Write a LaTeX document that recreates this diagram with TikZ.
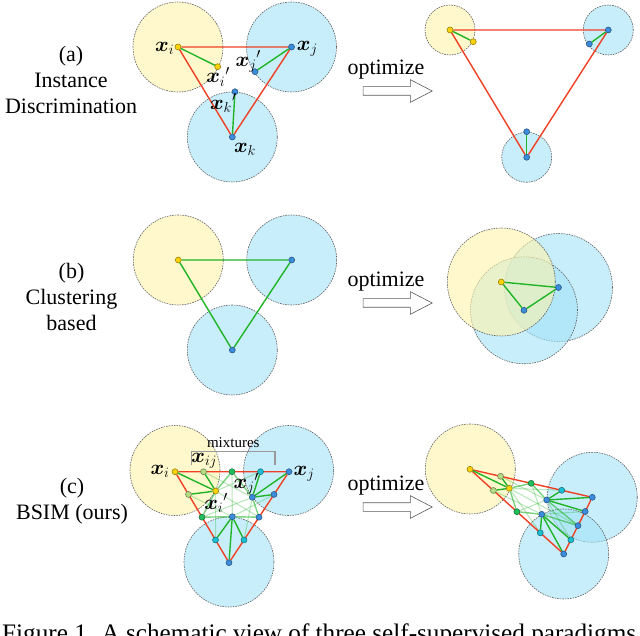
\documentclass[tikz,border=0pt]{standalone}
\usepackage{amsmath}
\usepackage{fontspec}
\setmainfont{Liberation Serif}
\usetikzlibrary{shapes.arrows, positioning, calc}

\definecolor{redline}{RGB}{240,64,36}
\definecolor{greenline}{RGB}{34,180,40}
\definecolor{ptyellow}{RGB}{250,210,10}
\definecolor{ptblue}{RGB}{60,140,220}
\definecolor{ptlgreen}{RGB}{180,220,130}
\definecolor{ptgreen}{RGB}{30,190,90}
\definecolor{ptcyan}{RGB}{30,190,210}
\definecolor{fillyellow}{RGB}{255,243,170}
\definecolor{fillblue}{RGB}{163,227,248}

\pgfdeclarelayer{back}
\pgfdeclarelayer{mid}
\pgfsetlayers{back,mid,main}

\tikzset{
  region/.style={circle, draw=gray!75!black, line width=0.6pt, dash pattern=on 1.6pt off 1pt,
                 fill opacity=0.6, inner sep=0pt, minimum size=#1},
  yregion/.style={region=#1, fill=fillyellow},
  bregion/.style={region=#1, fill=fillblue},
  pt/.style={circle, draw=#1!55!black, line width=0.5pt, inner sep=0pt, minimum size=6pt, fill=#1},
  redl/.style={draw=redline, line width=1.4pt},
  greenl/.style={draw=greenline, line width=1.4pt},
  greenmid/.style={greenl, draw opacity=0.6},
  greenfaint/.style={greenl, line width=1.1pt, draw opacity=0.3},
  lbl/.style={font=\fontsize{21}{25}\selectfont, inner sep=0pt},
  sectlbl/.style={font=\fontsize{22}{26}\selectfont, align=center, inner sep=0pt},
  opttext/.style={font=\fontsize{22}{26}\selectfont, inner sep=0pt},
  optarrow/.style={single arrow, draw=gray!70!black, fill=white, line width=0.6pt, minimum height=69pt,
                   inner sep=4pt, single arrow head extend=7pt, single arrow tip angle=55},
  bracket/.style={draw=gray!80, line width=1.5pt}
}

\newcommand{\xv}[1]{$\boldsymbol{x}_{#1}$}
\newcommand{\xp}[1]{${\boldsymbol{x}_{#1}}'$}

\begin{document}
\begin{tikzpicture}[x=1pt, y=-1pt]
\path[use as bounding box, clip] (0,0) rectangle (640,636);

% ---------- (a) instance discrimination
\node[sectlbl] (laba) at (71,80) {(a)\\Instance\\Discrimination};
\begin{pgfonlayer}{back}
  \node[yregion=90pt] (ral-i) at (178,47) {};
  \node[bregion=90pt] (ral-j) at (291.5,47) {};
  \node[bregion=90pt] (ral-k) at (232.3,137) {};
  \node[yregion=50pt] (rar-i) at (450,30) {};
  \node[bregion=50pt] (rar-j) at (608.3,30) {};
  \node[bregion=50pt] (rar-k) at (526.7,157.3) {};
\end{pgfonlayer}
\node[pt=ptyellow] (al-i) at (178,47) {};
\node[pt=ptblue] (al-j) at (291.5,47) {};
\node[pt=ptblue] (al-k) at (232.3,137) {};
\node[pt=ptyellow] (al-ip) at (217.7,66.7) {};
\node[pt=ptblue] (al-jp) at (255,71.7) {};
\node[pt=ptblue] (al-kp) at (235,91.7) {};
\node[pt=ptyellow] (ar-i) at (450,30) {};
\node[pt=ptblue] (ar-j) at (608.3,30) {};
\node[pt=ptblue] (ar-k) at (526.7,157.3) {};
\node[pt=ptyellow] (ar-ip) at (473.3,41.7) {};
\node[pt=ptblue] (ar-jp) at (589.3,44) {};
\node[pt=ptblue] (ar-kp) at (526.7,131.7) {};
\begin{pgfonlayer}{mid}
  \foreach \s in {al,ar}{
    \draw[redl] (\s-i) -- (\s-j) -- (\s-k) -- (\s-i);
    \foreach \a in {i,j,k} \draw[greenl] (\s-\a) -- (\s-\a p);
  }
\end{pgfonlayer}
\node[lbl] at ($(al-i)+(-13.3,1.3)$) {\xv{i}};
\node[lbl] at ($(al-j)+(15.8,2)$) {\xv{j}};
\node[lbl] at ($(al-k)+(12.7,12.3)$) {\xv{k}};
\node[lbl] at ($(al-ip)+(0.3,10)$) {\xp{i}};
\node[lbl] at ($(al-jp)+(-6.7,-10)$) {\xp{j}};
\node[lbl] at ($(al-kp)+(-11.7,11.6)$) {\xp{k}};
\node[optarrow] (arra) at (393.5,91) {};
\node[opttext] (opta) at (386,70) {optimize};

% ---------- (b) clustering based
\node[sectlbl] (labb) at (71.5,297) {(b)\\Clustering\\based};
\begin{pgfonlayer}{back}
  \node[yregion=90pt] (rbl-i) at (178.3,260) {};
  \node[bregion=90pt] (rbl-j) at (291.7,260) {};
  \node[bregion=90pt] (rbl-k) at (232.3,350) {};
  \node[bregion=108pt] (rbr-j) at (558.5,287.5) {};
  \node[bregion=107pt] (rbr-k) at (524,310.3) {};
  \node[yregion=108pt] (rbr-i) at (501.3,282) {};
\end{pgfonlayer}
\node[pt=ptyellow] (bl-i) at (178.3,260) {};
\node[pt=ptblue] (bl-j) at (291.7,260) {};
\node[pt=ptblue] (bl-k) at (232.3,350) {};
\node[pt=ptyellow] (br-i) at (501.3,282) {};
\node[pt=ptblue] (br-j) at (558.5,287.5) {};
\node[pt=ptblue] (br-k) at (524,310.3) {};
\begin{pgfonlayer}{mid}
  \foreach \s in {bl,br}
    \draw[greenl] (\s-i) -- (\s-j) -- (\s-k) -- (\s-i);
\end{pgfonlayer}
\node[optarrow] (arrb) at (393.5,303) {};
\node[opttext] (optb) at (386,282) {optimize};

% ---------- (c) BSIM
\node[sectlbl] (labc) at (72,501) {(c)\\BSIM (ours)};
\begin{pgfonlayer}{back}
  \node[yregion=90pt] (rcl-i) at (175,470.5) {};
  \node[bregion=90pt] (rcl-j) at (288.6,470.5) {};
  \node[bregion=90pt] (rcl-k) at (229,562) {};
  \node[yregion=90pt] (rcr-i) at (470.3,469) {};
  \node[bregion=90pt] (rcr-j) at (592.3,497.3) {};
  \node[bregion=90pt] (rcr-k) at (563.7,554) {};
\end{pgfonlayer}
\node[pt=ptyellow] (cl-i) at (175,471.7) {};
\node[pt=ptblue] (cl-j) at (289,471.7) {};
\node[pt=ptblue] (cl-k) at (229,562.7) {};
\node[pt=ptyellow] (cl-ip) at (215.7,491) {};
\node[pt=ptblue] (cl-jp) at (252.3,497.3) {};
\node[pt=ptblue] (cl-kp) at (232.3,516.7) {};
\node[pt=ptyellow] (cr-i) at (470,469.3) {};
\node[pt=ptblue] (cr-j) at (592.3,497.3) {};
\node[pt=ptblue] (cr-k) at (563.7,554) {};
\node[pt=ptyellow] (cr-ip) at (509.3,488.3) {};
\node[pt=ptblue] (cr-jp) at (546.7,500) {};
\node[pt=ptblue] (cr-kp) at (541.7,514.3) {};
\foreach \s in {cl,cr}{
  % mixtures on the three edges
  \node[pt=ptlgreen] (\s-t1) at ($(\s-i)!.25!(\s-j)$) {};
  \node[pt=ptgreen] (\s-t2) at ($(\s-i)!.5!(\s-j)$) {};
  \node[pt=ptcyan] (\s-t3) at ($(\s-i)!.75!(\s-j)$) {};
  \node[pt=ptlgreen] (\s-l1) at ($(\s-i)!.25!(\s-k)$) {};
  \node[pt=ptgreen] (\s-l2) at ($(\s-i)!.5!(\s-k)$) {};
  \node[pt=ptcyan] (\s-l3) at ($(\s-i)!.75!(\s-k)$) {};
  \node[pt=ptblue] (\s-r1) at ($(\s-j)!.25!(\s-k)$) {};
  \node[pt=ptblue] (\s-r2) at ($(\s-j)!.5!(\s-k)$) {};
  \node[pt=ptcyan] (\s-r3) at ($(\s-j)!.75!(\s-k)$) {};
  \begin{pgfonlayer}{mid}
    \foreach \a/\b in {ip/t3,ip/l3,ip/r2,jp/t1,jp/r3,jp/l2,kp/l1,kp/r1,kp/t2}
      \draw[greenfaint] (\s-\a) -- (\s-\b);
    \draw[redl] (\s-i) -- (\s-j) -- (\s-k) -- (\s-i);
    \foreach \a/\b in {ip/t2,ip/l2,jp/t2,jp/r2,kp/l2,kp/r2}
      \draw[greenmid] (\s-\a) -- (\s-\b);
    \foreach \a/\b in {ip/i,ip/t1,ip/l1,jp/j,jp/t3,jp/r1,kp/k,kp/l3,kp/r3}
      \draw[greenl] (\s-\a) -- (\s-\b);
  \end{pgfonlayer}
}
\draw[bracket] (191.7,465) |- (275,451.7) -- (275,465);
\node[font=\fontsize{15}{18}\selectfont, inner sep=0pt] (mixlbl) at (233.3,442.7) {mixtures};
\node[lbl] at ($(cl-i)+(-15,0)$) {\xv{i}};
\node[lbl] at ($(cl-j)+(15,2.3)$) {\xv{j}};
\node[lbl] at ($(cl-t1)+(0.7,-11)$) {\xv{ij}};
\node[lbl] at ($(cl-jp)+(-6,-13.3)$) {\xp{j}};
\node[lbl] at ($(cl-ip)+(0.3,12.3)$) {\xp{i}};
\node[optarrow] (arrc) at (393.5,507) {};
\node[opttext] (optc) at (386,486) {optimize};

% caption, cut by the page edge
\node[anchor=base west, inner sep=0pt, font=\fontsize{25.2}{30}\selectfont] (cap) at (2,641)
  {Figure 1. A schematic view of three self-supervised paradigms};
\end{tikzpicture}
\end{document}
